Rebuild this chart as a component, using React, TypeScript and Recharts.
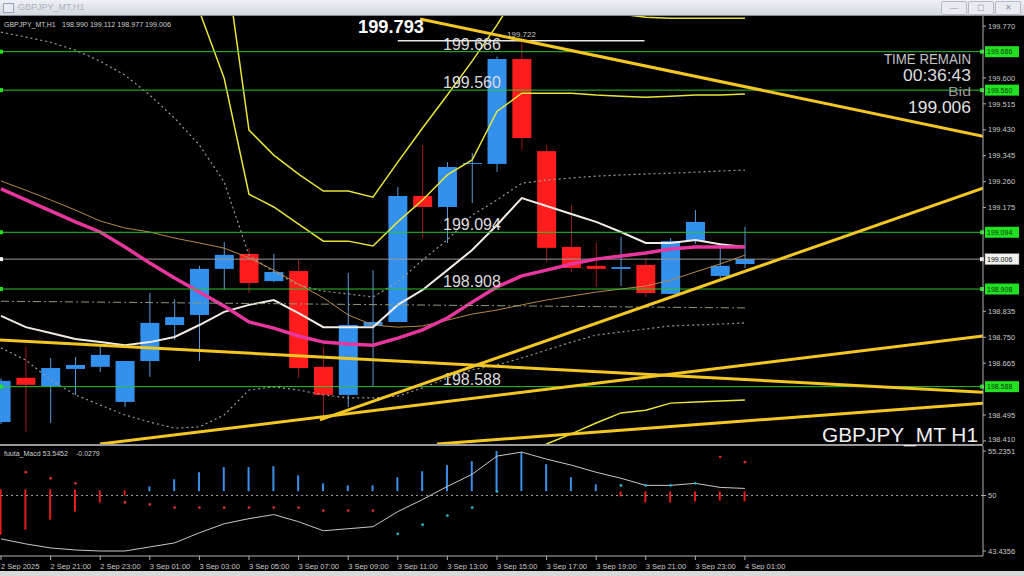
import React from 'react';
import { ComposedChart, Bar, Line, XAxis, YAxis, ReferenceLine } from 'recharts';

// GBPJPY H1, 2 Sep 19:00 .. 4 Sep 01:00
const OPEN = [198.472, 198.617, 198.59, 198.646, 198.653, 198.538, 198.672, 198.79, 198.823, 198.974, 199.023, 198.934, 198.967, 198.653, 198.561, 198.787, 198.8, 199.213, 199.177, 199.318, 199.318, 199.662, 199.36, 199.046, 198.984, 198.974, 198.987, 198.892, 199.065, 198.951, 198.99];
const HIGH = [198.615, 198.718, 198.682, 198.685, 198.721, 198.672, 198.895, 198.875, 198.984, 199.062, 199.043, 199.023, 199.003, 198.718, 198.961, 198.97, 199.242, 199.38, 199.324, 199.354, 199.67, 199.722, 199.38, 199.183, 199.059, 199.079, 199.01, 199.075, 199.167, 199.059, 199.112];
const LOW = [198.465, 198.44, 198.469, 198.561, 198.636, 198.521, 198.62, 198.741, 198.672, 198.905, 198.895, 198.93, 198.617, 198.489, 198.521, 198.587, 198.8, 199.075, 199.059, 199.19, 199.292, 199.364, 198.997, 198.964, 198.915, 198.918, 198.882, 198.892, 199.056, 198.944, 198.977];
const CLOSE = [198.607, 198.594, 198.649, 198.659, 198.692, 198.672, 198.797, 198.816, 198.974, 199.02, 198.928, 198.964, 198.649, 198.561, 198.79, 198.8, 199.213, 199.177, 199.308, 199.321, 199.662, 199.403, 199.043, 198.977, 198.974, 198.98, 198.895, 199.065, 199.128, 198.984, 199.006];

// moving averages
const MA_PINK = [199.236, 199.2, 199.164, 199.128, 199.095, 199.046, 198.993, 198.944, 198.898, 198.852, 198.8, 198.78, 198.754, 198.734, 198.728, 198.724, 198.747, 198.774, 198.813, 198.865, 198.915, 198.951, 198.97, 198.99, 199.006, 199.016, 199.026, 199.039, 199.046, 199.046, 199.046];
const MA_WHITE = [198.82, 198.783, 198.764, 198.744, 198.734, 198.724, 198.734, 198.751, 198.79, 198.833, 198.856, 198.872, 198.829, 198.783, 198.783, 198.783, 198.856, 198.905, 198.97, 199.036, 199.118, 199.206, 199.18, 199.154, 199.128, 199.095, 199.059, 199.059, 199.069, 199.055, 199.046];
const MA_TAN = [199.262, 199.232, 199.2, 199.167, 199.131, 199.108, 199.095, 199.075, 199.059, 199.042, 199.01, 198.97, 198.924, 198.879, 198.823, 198.79, 198.783, 198.787, 198.806, 198.826, 198.839, 198.856, 198.872, 198.885, 198.898, 198.908, 198.918, 198.937, 198.964, 198.99, 199.019];

// bands
const N = null;
const BAND_OUTER = [N, N, N, N, N, N, N, N, N, 200.019, 199.429, 199.347, 199.285, 199.229, 199.229, 199.209, 199.324, 199.436, 199.544, 199.655, 199.773, 199.904, 199.855, 199.829, 199.816, 199.809, 199.799, 199.796, 199.796, 199.796, 199.796];
const BAND_INNER = [N, N, N, N, N, N, N, 200.039, 199.819, 199.599, 199.219, 199.177, 199.121, 199.065, 199.065, 199.049, 199.128, 199.2, 199.282, 199.331, 199.49, 199.55, 199.55, 199.55, 199.544, 199.54, 199.537, 199.54, 199.544, 199.544, 199.547];
const BAND_LOWER = [N, N, N, N, N, N, N, N, N, N, N, N, N, N, N, N, N, N, N, N, N, 198.348, 198.4, 198.433, 198.469, 198.502, 198.511, 198.534, 198.538, 198.541, 198.544];
const DOT_UPPER = [199.75, 199.734, 199.717, 199.691, 199.655, 199.609, 199.544, 199.468, 199.38, 199.259, 199.019, 198.964, 198.921, 198.901, 198.892, 198.882, 198.931, 199.003, 199.069, 199.15, 199.2, 199.255, 199.265, 199.272, 199.278, 199.282, 199.285, 199.288, 199.291, 199.295, 199.298];
const DOT_LOWER = [198.715, 198.675, 198.61, 198.561, 198.528, 198.495, 198.472, 198.452, 198.456, 198.495, 198.577, 198.587, 198.577, 198.561, 198.551, 198.551, 198.557, 198.584, 198.616, 198.643, 198.659, 198.682, 198.708, 198.734, 198.757, 198.767, 198.777, 198.787, 198.79, 198.793, 198.797];

// fuuta_Macd
const HIST_LO = [45.35, 45.95, 47.14, 48.09, 49.17, 50.0, 50.5, 50.5, 50.5, 50.5, 50.5, 50.5, 50.5, 50.5, 50.5, 50.5, 50.5, 50.5, 50.5, 50.5, 50.5, 50.5, 50.5, 50.5, 50.5, 49.88, 49.17, 49.17, 49.29, 49.4, 49.29];
const HIST_HI = [50.72, 50.72, 50.72, 50.72, 50.6, 50.6, 51.07, 51.91, 52.74, 53.34, 53.34, 53.46, 52.38, 51.43, 51.19, 51.19, 52.15, 52.86, 53.58, 54.05, 55.24, 55.12, 53.69, 52.15, 51.31, 50.48, 50.48, 50.48, 50.48, 50.48, 50.48];
const HIST_UP = [0, 0, 0, 0, 0, 0, 1, 1, 1, 1, 1, 1, 1, 1, 1, 1, 1, 1, 1, 1, 1, 1, 1, 1, 1, 0, 0, 0, 0, 0, 0];
const SIGNAL = [44.87, 44.28, 43.8, 43.56, 43.44, 43.44, 43.92, 44.4, 45.59, 46.66, 47.26, 47.74, 46.9, 45.83, 46.07, 46.31, 48.09, 49.52, 51.07, 52.5, 54.65, 55.12, 54.29, 53.58, 52.74, 52.03, 51.19, 51.19, 51.43, 50.95, 50.83];
const DOT_RED = [N, 52.74, 52.03, 51.43, N, 49.17, 48.93, 48.57, 48.57, 48.57, 48.57, 48.57, 48.57, 48.21, 48.21, 48.21, N, N, N, N, N, N, N, N, N, N, N, N, N, 54.53, 53.93];
const DOT_CYAN = [N, N, N, N, N, N, N, N, N, N, N, N, N, N, N, N, 45.47, 46.54, 47.62, 48.57, 50.48, N, N, N, N, 51.19, 51.19, 51.19, 51.43, N, N];

const TICK_IDX = [0, 2, 4, 6, 8, 10, 12, 14, 16, 18, 20, 22, 24, 26, 28, 30];
const TICK_LABELS = ['2 Sep 2025', '2 Sep 21:00', '2 Sep 23:00', '3 Sep 01:00', '3 Sep 03:00', '3 Sep 05:00', '3 Sep 07:00', '3 Sep 09:00', '3 Sep 11:00', '3 Sep 13:00', '3 Sep 15:00', '3 Sep 17:00', '3 Sep 19:00', '3 Sep 21:00', '3 Sep 23:00', '4 Sep 01:00'];
const PRICE_TICKS = [199.77, 199.6, 199.515, 199.43, 199.345, 199.26, 199.175, 198.835, 198.75, 198.665, 198.495, 198.41];
const MACD_TICKS = [43.4356, 50, 55.2351];

const LEVELS = [199.686, 199.56, 199.094, 198.908, 198.588];
const BID = 199.006;
const HIGH_MARK = 199.722;
// [idx1, price1, idx2, price2]
const TRENDLINES = [
  [16.9, 199.793, 39.6, 199.409],
  [12.86, 198.479, 39.6, 199.239],
  [-0.04, 198.741, 39.6, 198.57],
  [3.99, 198.4, 39.6, 198.754],
  [17.58, 198.4, 39.6, 198.534],
];
const DASHDOT = [0, 198.868, 30, 198.846];

const X_DOMAIN = [-0.04, 39.6];
const FONT = '"Liberation Sans", Arial, sans-serif';

const mainData = OPEN.map((o, i) => ({
  idx: i, open: o, high: HIGH[i], low: LOW[i], close: CLOSE[i],
  pink: MA_PINK[i], white: MA_WHITE[i], tan: MA_TAN[i],
  bOut: BAND_OUTER[i], bIn: BAND_INNER[i], bLow: BAND_LOWER[i],
  dUp: DOT_UPPER[i], dLow: DOT_LOWER[i],
}));

const macdData = HIST_LO.map((lo, i) => ({
  idx: i, lo, hi: HIST_HI[i], up: HIST_UP[i],
  sig: SIGNAL[i], red: DOT_RED[i], cyan: DOT_CYAN[i],
}));

function Candle(props: any) {
  const { x, y, width, height, payload } = props;
  if (x == null || y == null) return null;
  const top = Math.min(y, y + height);
  const h = Math.abs(height);
  const range = payload.high - payload.low;
  const k = range > 0 ? h / range : 0;
  const up = payload.close >= payload.open;
  const bodyTop = top + (payload.high - Math.max(payload.open, payload.close)) * k;
  const bodyH = Math.max(1, Math.abs(payload.close - payload.open) * k);
  const cx = x + width / 2;
  return (
    <g>
      <line x1={cx} x2={cx} y1={top} y2={top + h} stroke={up ? '#5a9ad8' : '#a01c1c'} strokeWidth={1} />
      <rect x={x} y={bodyTop} width={width} height={bodyH} fill={up ? '#3391ee' : '#ff1c1c'} />
    </g>
  );
}

function HistBar(props: any) {
  const { x, y, width, height, payload } = props;
  if (x == null || y == null) return null;
  return (
    <rect x={x} y={Math.min(y, y + height)} width={width} height={Math.max(1, Math.abs(height))}
      fill={payload.up ? '#3a8fe8' : '#e21c1c'} />
  );
}

function LevelTag(props: any) {
  const { viewBox, text, tag, fg, big } = props;
  if (!viewBox) return null;
  const { x, y, width } = viewBox;
  const right = x + width;
  return (
    <g>
      {big && <text x={x + 443} y={y - 2} fill="#dcdcdc" fontSize={16}>{text}</text>}
      <rect x={x} y={y - 2} width={3} height={4} fill={tag} />
      <rect x={right - 3} y={y - 2} width={4} height={4} fill={tag} />
      <rect x={right + 2} y={y - 5.5} width={34} height={11} fill={tag} stroke={fg === '#000' ? '#888' : 'none'} strokeWidth={0.5} />
      <text x={right + 4} y={y + 2.8} fill={fg} fontSize={7}>{text}</text>
    </g>
  );
}

// keeps the lowest label inside the panel
function PriceTick(props: any) {
  const { x, y, payload } = props;
  return (
    <text x={x} y={Math.min(y, 423)} dy="0.355em" fill="#c8c8c8" fontSize={7.5} textAnchor="start">
      {payload.value.toFixed(3)}
    </text>
  );
}

function TimeTick(props: any) {
  const { x, y, payload } = props;
  const label = TICK_LABELS[TICK_IDX.indexOf(payload.value)];
  return (
    <text x={x} y={y + 7} fill="#c8c8c8" fontSize={7.5} textAnchor="start">{label}</text>
  );
}

export default function App() {
  return (
    <div style={{ position: 'absolute', left: 0, top: 0, width: 1024, height: 576, background: '#000', overflow: 'hidden', fontFamily: FONT }}>
      {/* title bar */}
      <div style={{ position: 'absolute', left: 0, top: 0, width: 1024, height: 15, background: 'linear-gradient(#eef1f5, #d3d9e1)', borderBottom: '1px solid #8a8a8a' }}>
        <div style={{ position: 'absolute', left: 3, top: 3, width: 9, height: 8, border: '1px solid #9aa6b6', background: '#e6ecf4' }} />
        <div style={{ position: 'absolute', left: 18, top: 2, fontSize: 9, color: '#aab2bd' }}>GBPJPY_MT,H1</div>
        {['—', '▢', '✕'].map((s, i) => (
          <div key={i} style={{ position: 'absolute', left: 941 + i * 27, top: 1, width: 24, height: 12, border: '1px solid #b4bac4', borderRadius: 2, background: '#e8ebf0', color: '#8a929e', fontSize: 8, lineHeight: '12px', textAlign: 'center' }}>{s}</div>
        ))}
      </div>

      {/* main price panel */}
      <div style={{ position: 'absolute', left: 0, top: 16 }}>
        <ComposedChart width={1020} height={428} data={mainData} margin={{ top: 0, right: 0, bottom: 0, left: 0 }}>
          <XAxis type="number" dataKey="idx" domain={X_DOMAIN} hide allowDataOverflow />
          <YAxis orientation="right" width={37} domain={[198.4, 199.803]} allowDataOverflow ticks={PRICE_TICKS} interval={0}
            tick={<PriceTick />} tickSize={3} tickMargin={2} axisLine={{ stroke: '#b0b0b0' }} tickLine={{ stroke: '#b0b0b0' }} />
          <ReferenceLine y={BID} stroke="#9a9a9a" strokeWidth={1}
            label={<LevelTag text={BID.toFixed(3)} tag="#f2f2f2" fg="#000" />} />
          <Bar dataKey={(d: any) => [d.low, d.high]} barSize={19} shape={<Candle />} isAnimationActive={false} />
          <Line type="linear" dataKey="dUp" stroke="#9a9a9a" strokeWidth={1.2} strokeDasharray="2 3" dot={false} isAnimationActive={false} />
          <Line type="linear" dataKey="dLow" stroke="#9a9a9a" strokeWidth={1.2} strokeDasharray="2 3" dot={false} isAnimationActive={false} />
          <Line type="linear" dataKey="tan" stroke="#b8884a" strokeWidth={1} dot={false} isAnimationActive={false} />
          <Line type="linear" dataKey="bOut" stroke="#e8e43a" strokeWidth={1.5} dot={false} isAnimationActive={false} />
          <Line type="linear" dataKey="bIn" stroke="#e8e43a" strokeWidth={1.5} dot={false} isAnimationActive={false} />
          <Line type="linear" dataKey="bLow" stroke="#e8e43a" strokeWidth={1.5} dot={false} isAnimationActive={false} />
          <Line type="linear" dataKey="white" stroke="#f2ebe4" strokeWidth={2} dot={false} isAnimationActive={false} />
          <Line type="linear" dataKey="pink" stroke="#e8369e" strokeWidth={3.5} dot={false} isAnimationActive={false} />
          <ReferenceLine segment={[{ x: DASHDOT[0], y: DASHDOT[1] }, { x: DASHDOT[2], y: DASHDOT[3] }]}
            stroke="#8c9a7c" strokeWidth={1} strokeDasharray="8 3 2 3" ifOverflow="hidden" />
          {LEVELS.map((lv) => (
            <ReferenceLine key={lv} y={lv} stroke="#2fc42f" strokeWidth={1}
              label={<LevelTag text={lv.toFixed(3)} tag="#22e022" fg="#0b3d0b" big />} />
          ))}
          <ReferenceLine segment={[{ x: 16.0, y: HIGH_MARK }, { x: 25.95, y: HIGH_MARK }]} stroke="#e8e8e8" strokeWidth={1.5} ifOverflow="hidden" />
          {TRENDLINES.map((t, i) => (
            <ReferenceLine key={i} segment={[{ x: t[0], y: t[1] }, { x: t[2], y: t[3] }]}
              stroke="#f2c623" strokeWidth={3} ifOverflow="hidden" />
          ))}
        </ComposedChart>
      </div>

      <div style={{ position: 'absolute', left: 0, top: 444, width: 983, height: 2, background: '#9a9a9a' }} />

      {/* MACD panel */}
      <div style={{ position: 'absolute', left: 0, top: 446 }}>
        <ComposedChart width={1020} height={124} data={macdData} margin={{ top: 0, right: 0, bottom: 0, left: 0 }}>
          <XAxis type="number" dataKey="idx" domain={X_DOMAIN} allowDataOverflow ticks={TICK_IDX} interval={0} height={14}
            tick={<TimeTick />} tickSize={4} tickLine={{ stroke: '#b0b0b0' }} axisLine={{ stroke: '#b0b0b0' }} />
          <YAxis orientation="right" width={37} domain={[42.85, 55.84]} allowDataOverflow ticks={MACD_TICKS} interval={0}
            tickFormatter={(v: number) => (v === 50 ? '50' : v.toFixed(4))} tick={{ fill: '#c8c8c8', fontSize: 7.5 }}
            tickSize={3} tickMargin={2} axisLine={{ stroke: '#b0b0b0' }} tickLine={{ stroke: '#b0b0b0' }} />
          <ReferenceLine y={50} stroke="#a0a0a0" strokeWidth={1} strokeDasharray="2 3" />
          <Bar dataKey={(d: any) => [d.lo, d.hi]} barSize={2} shape={<HistBar />} isAnimationActive={false} />
          <Line type="linear" dataKey="sig" stroke="#c8c8c8" strokeWidth={1} dot={false} isAnimationActive={false} />
          <Line type="linear" dataKey="red" stroke="none" dot={{ r: 1.4, fill: '#d23030', stroke: 'none' }} isAnimationActive={false} />
          <Line type="linear" dataKey="cyan" stroke="none" dot={{ r: 1.4, fill: '#2ab0c8', stroke: 'none' }} isAnimationActive={false} />
        </ComposedChart>
      </div>

      <div style={{ position: 'absolute', left: 0, top: 571, width: 1024, height: 5, background: '#d8d8d8' }} />

      {/* text overlay */}
      <svg width={1024} height={576} style={{ position: 'absolute', left: 0, top: 0, pointerEvents: 'none', fontFamily: FONT }}>
        <text x={4} y={27} fill="#d0d0d0" fontSize={7}>GBPJPY_MT,H1</text>
        <text x={62} y={27} fill="#d0d0d0" fontSize={7} textLength={109} lengthAdjust="spacingAndGlyphs">198.990 199.112 198.977 199.006</text>
        <text x={358} y={32.5} fill="#ffffff" fontSize={18} fontWeight="bold" textLength={66} lengthAdjust="spacingAndGlyphs">199.793</text>
        <text x={507} y={37} fill="#c0c0c0" fontSize={8}>199.722</text>
        <text x={971} y={64} fill="#c4c4c4" fontSize={14} textAnchor="end" textLength={87} lengthAdjust="spacingAndGlyphs">TIME REMAIN</text>
        <text x={971} y={81} fill="#dcdcdc" fontSize={16} textAnchor="end" textLength={68} lengthAdjust="spacingAndGlyphs">00:36:43</text>
        <text x={971} y={96} fill="#9a9a9a" fontSize={12} textAnchor="end" textLength={23} lengthAdjust="spacingAndGlyphs">Bid</text>
        <text x={971} y={113} fill="#e0e0e0" fontSize={17} textAnchor="end" textLength={63} lengthAdjust="spacingAndGlyphs">199.006</text>
        <text x={822} y={442} fill="#f0f0f0" fontSize={21} textLength={156} lengthAdjust="spacingAndGlyphs">GBPJPY_MT H1</text>
        <text x={4} y={456} fill="#d0d0d0" fontSize={7}>fuuta_Macd 53.5452</text>
        <text x={76} y={456} fill="#d0d0d0" fontSize={7}>-0.0279</text>
      </svg>
    </div>
  );
}
